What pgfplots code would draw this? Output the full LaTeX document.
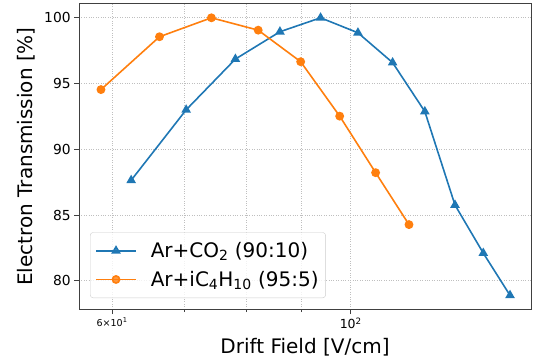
\documentclass[border=0pt]{standalone}
\usepackage{fontspec}
\setmainfont{DejaVu Sans}
\usepackage{pgfplots}
\pgfplotsset{compat=1.18}
\definecolor{tabblue}{HTML}{1F77B4}
\definecolor{taborange}{HTML}{FF7F0E}
\begin{document}
\begin{tikzpicture}[x=1pt,y=1pt]
\begin{axis}[
  at={(79pt,53pt)}, anchor=south west,
  scale only axis, width=452pt, height=305pt,
  xmode=log, log basis x=10,
  xmin=55.9, xmax=147.1, ymin=77.85, ymax=101.05,
  /pgf/number format/assume math mode=true,
  xtick={60,100},
  xticklabels={{\fontsize{9.5}{11}\selectfont 6×10\textsuperscript{1}},{10\textsuperscript{2}}},
  minor xtick={70,80,90},
  ytick={80,85,90,95,100},
  xtick pos=left, ytick pos=left,
  tick align=outside,
  major tick length=5pt, minor tick length=3pt,
  every tick/.style={black!75, line width=0.8pt},
  x tick label style={font=\fontsize{12.5}{15}\selectfont},
  y tick label style={font=\fontsize{13.8}{16}\selectfont},
  grid=both,
  major grid style={black!25, dotted, line width=0.7pt},
  minor grid style={black!25, dotted, line width=0.7pt},
  axis line style={black!75, line width=1pt},
  xlabel={Drift Field [V/cm]},
  ylabel={Electron Transmission [\%]},
  xlabel style={font=\fontsize{20}{24}\selectfont, at={(axis description cs:0.5,-0.1246)}, anchor=center},
  ylabel style={font=\fontsize{20}{24}\selectfont, at={(axis description cs:-0.117,0.5)}, anchor=center, rotate=0},
  legend style={at={(axis description cs:0.0243,0.036)}, anchor=south west,
    font=\fontsize{20}{24}\selectfont, draw=black!20, rounded corners=3pt,
    fill=white, fill opacity=0.8, text opacity=1, inner xsep=5pt, inner ysep=8pt,
    row sep=8pt, /tikz/every odd column/.append style={column sep=12pt}},
  legend cell align=left,
  legend image code/.code={\draw[mark repeat=2,mark phase=2,#1] plot coordinates {(0pt,0pt) (20pt,0pt) (40pt,0pt)};},
]
\addplot[tabblue, line width=1.6pt, mark=triangle*, mark size=4pt, mark options={solid}] coordinates {
 (62.5,87.64) (70.31,93.0) (78.13,96.86) (85.94,98.94) (93.75,100) (101.56,98.86)
 (109.38,96.59) (117.19,92.87) (125,85.76) (132.81,82.1) (140.63,78.89)};
\addlegendentry{Ar+CO\textsubscript{2} (90:10)}
\addplot[taborange, line width=1.6pt, mark=*, mark size=3.6pt, mark options={solid}] coordinates {
 (58.59,94.54) (66.41,98.56) (74.22,100) (82.03,99.06) (89.84,96.66) (97.66,92.52)
 (105.47,88.22) (113.28,84.27)};
\addlegendentry{Ar+iC\textsubscript{4}H\textsubscript{10} (95:5)}
\end{axis}
\pgfresetboundingbox
\path[use as bounding box] (0,0) rectangle (535,362);
\end{tikzpicture}
\end{document}
